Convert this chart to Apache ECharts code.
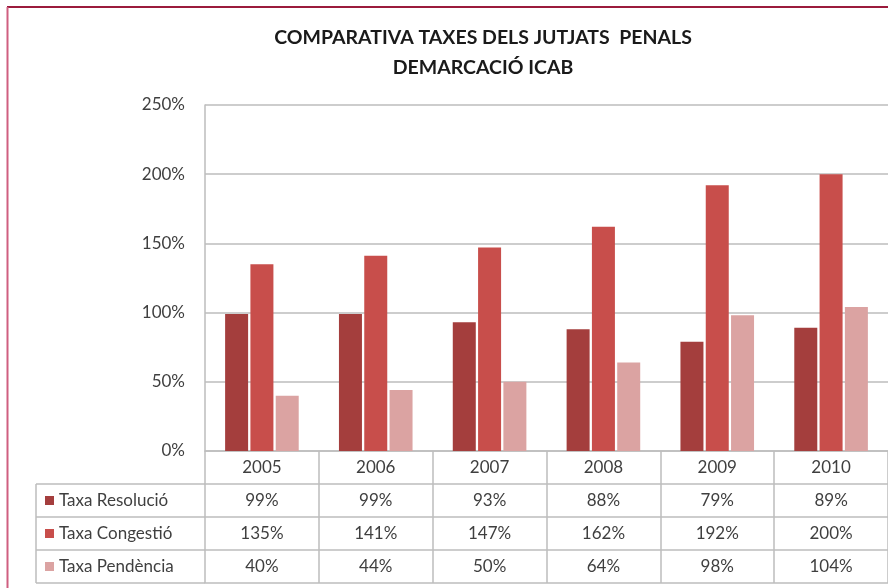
<!DOCTYPE html>
<html>
<head>
<meta charset="utf-8">
<script src="https://cdn.jsdelivr.net/npm/echarts@6/dist/echarts.min.js"></script>
<style>
html,body{margin:0;padding:0;background:#fff;}
#c{width:888px;height:588px;}
</style>
</head>
<body>
<div id="c"></div>
<script>
const years = ['2005','2006','2007','2008','2009','2010'];
const resolucio = [99, 99, 93, 88, 79, 89];
const congestio = [135, 141, 147, 162, 192, 200];
const pendencia = [40, 44, 50, 64, 98, 104];
const seriesNames = ['Taxa Resolució', 'Taxa Congestió', 'Taxa Pendència'];
const yTicks = [0, 50, 100, 150, 200, 250];

const colors = ['#A43E3D', '#C84E4B', '#DBA3A2'];
const FONT = 'Lato';
const GRID_LEFT = 205, GRID_TOP = 105, GRID_H = 346, CAT_W = 114.8;
const ROW_H = 33;
const AXIS_Y = GRID_TOP + GRID_H;
const TABLE_LEFT = 36;
const lineCol = '#bdbdbd';
const textCol = '#3f3f3f';

const chart = echarts.init(document.getElementById('c'), null, {renderer: 'canvas'});

const rowsData = [years, resolucio.map(v => v + '%'), congestio.map(v => v + '%'), pendencia.map(v => v + '%')];

const xAxes = rowsData.map((d, i) => ({
  type: 'category',
  data: d,
  position: 'bottom',
  offset: i * ROW_H,
  gridIndex: 0,
  axisLine: {show: true, lineStyle: {color: lineCol, width: 1.5}},
  axisTick: i === 0 ? {show: true, length: ROW_H * 4, lineStyle: {color: lineCol, width: 1.5}} : {show: false},
  axisLabel: {
    margin: ROW_H / 2, verticalAlign: 'middle', fontFamily: FONT, fontSize: 17, color: textCol
  },
  splitLine: {show: false}
}));
xAxes.push({
  type: 'category', data: years, position: 'bottom', offset: ROW_H * 4, gridIndex: 0,
  axisLine: {show: true, lineStyle: {color: lineCol, width: 1.5}},
  axisTick: {show: false}, axisLabel: {show: false}
});

const graphics = [
  {type: 'line', shape: {x1: 7, y1: 7, x2: 888, y2: 7}, style: {stroke: '#9B1B3C', lineWidth: 2}, z: 100},
  {type: 'line', shape: {x1: 7.5, y1: 7, x2: 7.5, y2: 588}, style: {stroke: '#CF5F80', lineWidth: 2}, z: 100},
  {type: 'line', shape: {x1: TABLE_LEFT, y1: AXIS_Y + ROW_H, x2: TABLE_LEFT, y2: AXIS_Y + ROW_H * 4}, style: {stroke: lineCol, lineWidth: 1.5}}
];
for (let r = 1; r <= 4; r++) {
  graphics.push({type: 'line', shape: {x1: TABLE_LEFT, y1: AXIS_Y + ROW_H * r, x2: GRID_LEFT, y2: AXIS_Y + ROW_H * r}, style: {stroke: lineCol, lineWidth: 1.5}});
}

chart.setOption({
  animation: false,
  backgroundColor: '#ffffff',
  title: {
    text: 'COMPARATIVA TAXES DELS JUTJATS  PENALS\nDEMARCACIÓ ICAB',
    left: 478, top: 18, textAlign: 'center',
    textStyle: {fontFamily: FONT, fontWeight: 'bold', fontSize: 19.5, lineHeight: 30, color: '#1a1a1a'}
  },
  legend: {
    orient: 'vertical',
    left: TABLE_LEFT + 4,
    top: AXIS_Y + ROW_H + ROW_H / 2 - 15,
    itemGap: ROW_H - 20,
    itemWidth: 9, itemHeight: 9,
    icon: 'rect',
    textStyle: {fontFamily: FONT, fontSize: 17, color: textCol, lineHeight: 20},
    data: seriesNames
  },
  grid: {left: GRID_LEFT, top: GRID_TOP, width: CAT_W * 6, height: GRID_H, containLabel: false},
  xAxis: xAxes,
  yAxis: {
    type: 'value', min: yTicks[0], max: yTicks[yTicks.length - 1], interval: 50,
    axisLine: {show: true, lineStyle: {color: lineCol, width: 1.5}},
    axisTick: {show: false},
    axisLabel: {formatter: '{value}%', margin: 20, fontFamily: FONT, fontSize: 17, color: textCol},
    splitLine: {show: true, lineStyle: {color: lineCol, width: 1.5}}
  },
  graphic: graphics,
  series: [resolucio, congestio, pendencia].map((d, i) => ({
    type: 'bar', name: seriesNames[i], data: d, xAxisIndex: 0,
    barWidth: 23, barGap: '10%',
    itemStyle: {color: colors[i]}
  }))
});
</script>
</body>
</html>
